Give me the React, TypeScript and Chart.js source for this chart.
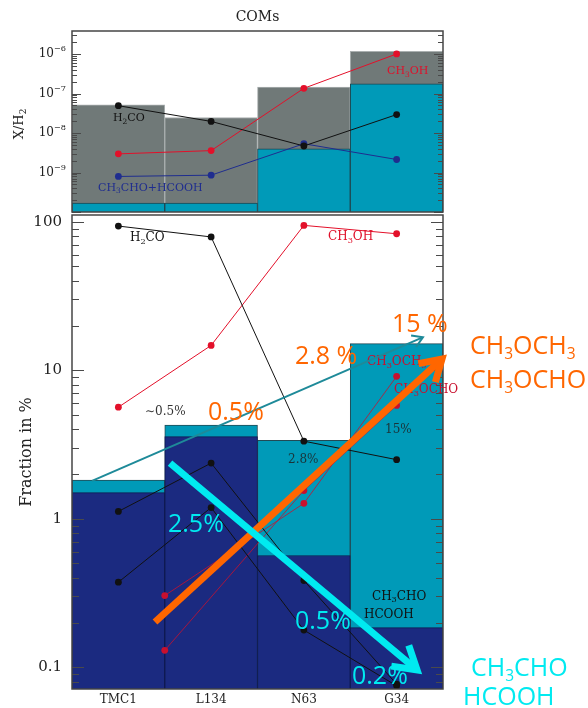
import React, { useEffect, useRef } from 'react';
import { Chart, registerables } from 'chart.js';

Chart.register(...registerables);

// ---------- categories ----------
const SOURCES = ['TMC1', 'L134', 'N63', 'G34'];
const SOURCE_X = [0, 1, 2, 3];

// ---------- top panel: abundances X/H2 ----------
const topTotal = [5.22e-8, 2.48e-8, 1.47e-7, 1.17e-6];
const topComsShare = [1.69e-10, 1.69e-10, 3.97e-9, 1.77e-7];
const topH2CO = [4.93e-8, 1.97e-8, 4.7e-9, 2.94e-8];
const topCH3OH = [2.97e-9, 3.59e-9, 1.36e-7, 1.01e-6];
const topCH3CHO_HCOOH = [7.95e-10, 8.57e-10, 5.36e-9, 2.14e-9];

// ---------- bottom panel: fraction in % ----------
const fracComsTotal = [1.82, 4.27, 3.38, 15.1];
const fracCHOShare = [1.5, 3.57, 0.566, 0.185];
const fracH2CO = [93.5, 79, 3.33, 2.5];
const fracCH3OH = [5.64, 14.7, 94.5, 83];
const fracCH3CHO = [1.12, 2.37, 0.384, 0.077];
const fracHCOOH = [0.374, 1.19, 0.178, 0.075];
const fracEsterX = [0.5, 2, 3];
const fracCH3OCH3 = [0.304, 1.27, 9.1];
const fracCH3OCHO = [0.13, 1.55, 5.8];

// ---------- tick labels ----------
const TOP_TICK_VALUES = [1e-9, 1e-8, 1e-7, 1e-6];
const TOP_TICK_LABELS = ['10^{−9}', '10^{−8}', '10^{−7}', '10^{−6}'];
const BOTTOM_TICK_VALUES = [0.1, 1, 10, 100];
const BOTTOM_TICK_LABELS = ['0.1', '1', '10', '100'];

// ---------- annotation texts (anchored in data coordinates) ----------
const TOP_LABELS = [
  { text: 'H_2CO', x: -0.058, y: 2.34e-8, color: '#111111' },
  { text: 'CH_3CHO+HCOOH', x: -0.22, y: 4.0e-10, color: '#1f2d8f' },
  { text: 'CH_3OH', x: 2.896, y: 3.66e-7, color: '#e0102a' },
];
const BOTTOM_LABELS = [
  { text: 'H_2CO', x: 0.125, y: 77.6, color: '#111111' },
  { text: 'CH_3OH', x: 2.26, y: 78.9, color: '#e0102a' },
  { text: '∼0.5%', x: 0.287, y: 5.26, color: '#333333' },
  { text: '2.8%', x: 1.829, y: 2.49, color: '#1a3338' },
  { text: '15%', x: 2.875, y: 3.96, color: '#1a3338' },
  { text: 'CH_3OCH_3', x: 2.681, y: 11.4, color: '#c8102e' },
  { text: 'CH_3OCHO', x: 2.972, y: 7.36, color: '#c8102e' },
  { text: 'CH_3CHO', x: 2.734, y: 0.2987, color: '#111111' },
  { text: 'HCOOH', x: 2.648, y: 0.2249, color: '#111111' },
];

const ORANGE = '#ff6600';
const CYAN = '#00eaf0';
const ARROWS = [
  { from: [-0.284, 1.8], to: [3.284, 16.7], color: '#1e8a99', width: 2, head: 12 },
  { from: [0.395, 0.2018], to: [3.489, 11.9], color: ORANGE, width: 7, head: 24 },
  { from: [0.557, 2.37], to: [3.22, 0.0959], color: CYAN, width: 7, head: 26 },
];
const OVERLAY_TEXTS = [
  { text: '15 %', x: 2.95, y: 20.2, color: ORANGE },
  { text: '2.8 %', x: 1.904, y: 12.3, color: ORANGE },
  { text: '0.5%', x: 0.966, y: 5.15, color: ORANGE },
  { text: 'CH_3OCH_3', x: 3.791, y: 14.3, color: ORANGE },
  { text: 'CH_3OCHO', x: 3.791, y: 8.46, color: ORANGE },
  { text: '2.5%', x: 0.535, y: 0.908, color: CYAN },
  { text: '0.5%', x: 1.904, y: 0.2018, color: CYAN },
  { text: '0.2%', x: 2.519, y: 0.0861, color: CYAN },
  { text: 'CH_3CHO', x: 3.802, y: 0.0974, color: CYAN },
  { text: 'HCOOH', x: 3.716, y: 0.0621, color: CYAN },
];

const SERIF = '"DejaVu Serif", serif';
const SANS = '"Open Sans", "Noto Sans", sans-serif';

const TEAL = '#009ab8';
const NAVY = '#1b2a80';
const GRAY = '#707978';

type Part = { t: string; k: 'n' | 'sub' | 'sup' };

function parseRich(s: string): Part[] {
  const parts: Part[] = [];
  let buf = '';
  let i = 0;
  const flush = () => {
    if (buf) {
      parts.push({ t: buf, k: 'n' });
      buf = '';
    }
  };
  while (i < s.length) {
    const c = s[i];
    if (c === '_' || c === '^') {
      flush();
      let t = '';
      if (s[i + 1] === '{') {
        const j = s.indexOf('}', i + 2);
        t = s.slice(i + 2, j);
        i = j + 1;
      } else {
        t = s[i + 1];
        i += 2;
      }
      parts.push({ t, k: c === '_' ? 'sub' : 'sup' });
    } else {
      buf += c;
      i++;
    }
  }
  flush();
  return parts;
}

function drawRich(
  ctx: CanvasRenderingContext2D,
  s: string,
  x: number,
  y: number,
  size: number,
  family: string,
  color: string,
  align: 'left' | 'center' | 'right' = 'left',
  ratio = 0.68
) {
  const parts = parseRich(s);
  const small = size * ratio;
  ctx.save();
  ctx.fillStyle = color;
  ctx.textBaseline = 'middle';
  ctx.textAlign = 'left';
  const widths = parts.map((p) => {
    ctx.font = `${p.k === 'n' ? size : small}px ${family}`;
    return ctx.measureText(p.t).width;
  });
  const w = widths.reduce((a, b) => a + b, 0);
  let cx = align === 'left' ? x : align === 'center' ? x - w / 2 : x - w;
  parts.forEach((p, i) => {
    ctx.font = `${p.k === 'n' ? size : small}px ${family}`;
    const dy = p.k === 'sub' ? size * 0.3 : p.k === 'sup' ? -size * 0.42 : 0;
    ctx.fillText(p.t, cx, y + dy);
    cx += widths[i];
  });
  ctx.restore();
}

function drawInnerTicks(chart: any, majorLen: number, minorLen: number) {
  const { ctx, chartArea: a } = chart;
  const sc = chart.scales.y;
  const lo = Math.floor(Math.log10(sc.min));
  const hi = Math.ceil(Math.log10(sc.max));
  ctx.save();
  ctx.strokeStyle = '#4a4a4a';
  ctx.lineWidth = 1;
  for (let e = lo; e <= hi; e++) {
    for (let m = 1; m <= 9; m++) {
      const v = m * Math.pow(10, e);
      if (v < sc.min * 0.9999 || v > sc.max * 1.0001) continue;
      const py = Math.round(sc.getPixelForValue(v)) + 0.5;
      const len = m === 1 ? majorLen : minorLen;
      ctx.beginPath();
      ctx.moveTo(a.left, py);
      ctx.lineTo(a.left + len, py);
      ctx.moveTo(a.right, py);
      ctx.lineTo(a.right - len, py);
      ctx.stroke();
    }
  }
  ctx.restore();
}

function drawFrame(chart: any) {
  const { ctx, chartArea: a } = chart;
  ctx.save();
  ctx.strokeStyle = '#454545';
  ctx.lineWidth = 1.5;
  ctx.strokeRect(a.left, a.top, a.right - a.left, a.bottom - a.top);
  ctx.restore();
}

function drawArrow(
  ctx: CanvasRenderingContext2D,
  x1: number,
  y1: number,
  x2: number,
  y2: number,
  color: string,
  width: number,
  head: number
) {
  const ang = Math.atan2(y2 - y1, x2 - x1);
  const spread = 0.55;
  ctx.save();
  ctx.strokeStyle = color;
  ctx.lineWidth = width;
  ctx.lineCap = 'butt';
  ctx.lineJoin = 'miter';
  ctx.beginPath();
  ctx.moveTo(x1, y1);
  ctx.lineTo(x2 - Math.cos(ang) * width * 0.8, y2 - Math.sin(ang) * width * 0.8);
  ctx.stroke();
  ctx.beginPath();
  ctx.moveTo(x2 - head * Math.cos(ang - spread), y2 - head * Math.sin(ang - spread));
  ctx.lineTo(x2, y2);
  ctx.lineTo(x2 - head * Math.cos(ang + spread), y2 - head * Math.sin(ang + spread));
  ctx.stroke();
  ctx.restore();
}

const pts = (xs: number[], ys: number[]) => ys.map((y, i) => ({ x: xs[i], y }));

function lineSet(data: { x: number; y: number }[], color: string, width = 1, radius = 3.4) {
  return {
    type: 'line' as const,
    data,
    borderColor: color,
    backgroundColor: color,
    pointBackgroundColor: color,
    pointBorderWidth: 0,
    borderWidth: width,
    pointRadius: radius,
    tension: 0,
    order: 0,
  };
}

function barSet(values: number[], fill: string, border: string, order: number) {
  return {
    type: 'bar' as const,
    data: pts(SOURCE_X, values),
    backgroundColor: fill,
    borderColor: border,
    borderWidth: 1,
    borderSkipped: 'bottom' as const,
    grouped: false,
    barPercentage: 1,
    categoryPercentage: 1,
    order,
  };
}

const xScale = {
  type: 'linear' as const,
  display: false,
  offset: false,
  min: -0.5,
  max: 3.5,
  grid: { offset: false },
  afterBuildTicks: (s: any) => {
    s.ticks = SOURCE_X.map((v) => ({ value: v }));
  },
};

export default function App() {
  const topRef = useRef<HTMLCanvasElement>(null);
  const botRef = useRef<HTMLCanvasElement>(null);

  useEffect(() => {
    const topPlugin = {
      id: 'topDeco',
      afterDatasetsDraw(chart: any) {
        const { ctx, chartArea: a } = chart;
        const sx = chart.scales.x;
        const sy = chart.scales.y;
        drawInnerTicks(chart, 9, 5);
        drawFrame(chart);
        TOP_TICK_VALUES.forEach((v, i) => {
          drawRich(ctx, TOP_TICK_LABELS[i], 66, sy.getPixelForValue(v), 12, SERIF, '#222', 'right', 0.68);
        });
        TOP_LABELS.forEach((l) => {
          drawRich(ctx, l.text, sx.getPixelForValue(l.x), sy.getPixelForValue(l.y), 11, SERIF, l.color, 'left');
        });
        ctx.save();
        ctx.font = `14px ${SERIF}`;
        ctx.fillStyle = '#222';
        ctx.textAlign = 'center';
        ctx.textBaseline = 'middle';
        ctx.fillText('COMs', (a.left + a.right) / 2, 17);
        ctx.translate(20, 124);
        ctx.rotate(-Math.PI / 2);
        drawRich(ctx, 'X/H_2', 0, 0, 13, SERIF, '#222', 'center');
        ctx.restore();
      },
    };

    const botPlugin = {
      id: 'botDeco',
      afterDatasetsDraw(chart: any) {
        const { ctx, chartArea: a } = chart;
        const sx = chart.scales.x;
        const sy = chart.scales.y;
        drawInnerTicks(chart, 12, 7);
        drawFrame(chart);
        BOTTOM_TICK_VALUES.forEach((v, i) => {
          drawRich(ctx, BOTTOM_TICK_LABELS[i], 62, sy.getPixelForValue(v), 15, SERIF, '#222', 'right');
        });
        SOURCES.forEach((s, i) => {
          drawRich(ctx, s, sx.getPixelForValue(SOURCE_X[i]), a.bottom + 11, 12, SERIF, '#222', 'center');
        });
        BOTTOM_LABELS.forEach((l) => {
          drawRich(ctx, l.text, sx.getPixelForValue(l.x), sy.getPixelForValue(l.y), 12, SERIF, l.color, 'left');
        });
        ctx.save();
        ctx.translate(27, 244);
        ctx.rotate(-Math.PI / 2);
        drawRich(ctx, 'Fraction in %', 0, 0, 16, SERIF, '#222', 'center');
        ctx.restore();
      },
      afterDraw(chart: any) {
        const { ctx } = chart;
        const sx = chart.scales.x;
        const sy = chart.scales.y;
        ARROWS.forEach((ar) => {
          drawArrow(
            ctx,
            sx.getPixelForValue(ar.from[0]),
            sy.getPixelForValue(ar.from[1]),
            sx.getPixelForValue(ar.to[0]),
            sy.getPixelForValue(ar.to[1]),
            ar.color,
            ar.width,
            ar.head
          );
        });
        OVERLAY_TEXTS.forEach((t) => {
          drawRich(ctx, t.text, sx.getPixelForValue(t.x), sy.getPixelForValue(t.y), 25, SANS, t.color, 'left', 0.62);
        });
      },
    };

    const top = new Chart(topRef.current as HTMLCanvasElement, {
      type: 'bar',
      data: {
        datasets: [
          lineSet(pts(SOURCE_X, topH2CO), '#111111'),
          lineSet(pts(SOURCE_X, topCH3OH), '#e3102a'),
          lineSet(pts(SOURCE_X, topCH3CHO_HCOOH), '#1f2d8f'),
          barSet(topComsShare, TEAL, '#1f4650', 1),
          barSet(topTotal, GRAY, '#aab0b0', 2),
        ] as any,
      },
      options: {
        responsive: false,
        animation: false,
        events: [],
        layout: { padding: { left: 72, right: 145, top: 31, bottom: 1 } },
        plugins: { legend: { display: false }, tooltip: { enabled: false }, title: { display: false } },
        scales: {
          x: xScale as any,
          y: { type: 'logarithmic', display: false, min: 1e-10, max: 3.85e-6, bounds: 'data' } as any,
        },
      },
      plugins: [topPlugin],
    });

    const bot = new Chart(botRef.current as HTMLCanvasElement, {
      type: 'bar',
      data: {
        datasets: [
          lineSet(pts(SOURCE_X, fracH2CO), '#111111'),
          lineSet(pts(SOURCE_X, fracCH3OH), '#e3102a'),
          lineSet(pts(SOURCE_X, fracCH3CHO), '#111111'),
          lineSet(pts(SOURCE_X, fracHCOOH), '#111111'),
          lineSet(pts(fracEsterX, fracCH3OCH3), '#c8102e', 0.8),
          lineSet(pts(fracEsterX, fracCH3OCHO), '#c8102e', 0.8),
          barSet(fracCHOShare, NAVY, '#0f1a50', 1),
          barSet(fracComsTotal, TEAL, '#224a55', 2),
        ] as any,
      },
      options: {
        responsive: false,
        animation: false,
        events: [],
        layout: { padding: { left: 72, right: 145, top: 7, bottom: 19 } },
        plugins: { legend: { display: false }, tooltip: { enabled: false }, title: { display: false } },
        scales: {
          x: xScale as any,
          y: { type: 'logarithmic', display: false, min: 0.0714, max: 111, bounds: 'data' } as any,
        },
      },
      plugins: [botPlugin],
    });

    return () => {
      top.destroy();
      bot.destroy();
    };
  }, []);

  return (
    <div style={{ position: 'absolute', left: 0, top: 0, width: 588, height: 708, background: '#ffffff' }}>
      <canvas ref={topRef} width={588} height={216} style={{ position: 'absolute', left: 0, top: 0 }} />
      <canvas ref={botRef} width={588} height={500} style={{ position: 'absolute', left: 0, top: 208 }} />
    </div>
  );
}
